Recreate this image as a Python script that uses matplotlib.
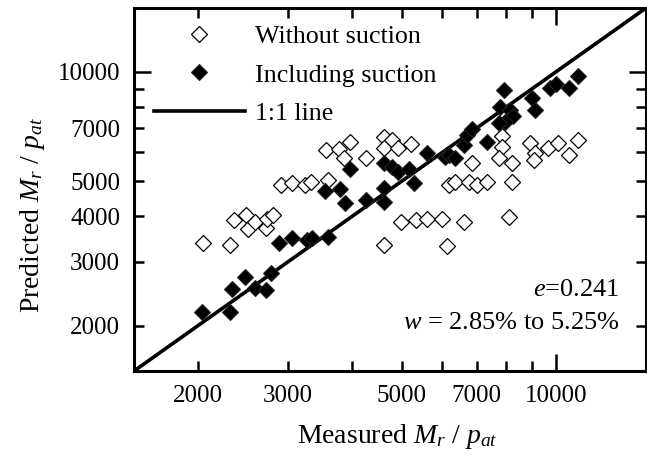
import matplotlib
matplotlib.use('Agg')
import matplotlib.pyplot as plt
from matplotlib.ticker import FixedLocator, FuncFormatter

plt.rcParams['font.family'] = ['Liberation Serif', 'DejaVu Serif']
plt.rcParams['mathtext.fontset'] = 'custom'
plt.rcParams['mathtext.rm'] = 'Liberation Serif'
plt.rcParams['mathtext.it'] = 'Liberation Serif:italic'

# measured vs predicted Mr/pat
open_x = [2050, 2310, 2350, 2480, 2510, 2585, 2710, 2730, 2800, 2910, 3050, 3240, 3325, 3590,
          3555, 3775, 3955, 3855, 4255, 4620, 4795, 4620, 4920, 5205, 4985, 4620, 5320, 5605,
          5995, 6605, 8085, 6130, 6180, 6365, 6755, 7015, 7335, 8205, 6860, 7845, 7845, 7730,
          8205, 8910, 9085, 9050, 9670, 10110, 10620, 11060]
open_y = [3370, 3340, 3900, 4030, 3690, 3870, 3720, 3940, 4030, 4880, 4940, 4880, 4985, 5040,
          6090, 6120, 6420, 5780, 5780, 6620, 6490, 6160, 6170, 6330, 3870, 3335, 3900, 3940,
          3930, 3870, 3990, 3320, 4880, 4985, 4985, 4880, 4990, 4985, 5600, 6650, 6220, 5780,
          5600, 6360, 5970, 5720, 6160, 6360, 5900, 6490]

fill_x = [2040, 2305, 2335, 2470, 2580, 2720, 2775, 2880, 3055, 3270, 3335, 3590, 3540, 3790,
          3870, 3955, 4255, 4610, 4620, 4620, 4795, 4920, 5165, 5285, 5605, 6085, 6180, 6365,
          6605, 6705, 6860, 7335, 7905, 7790, 8145, 8265, 7965, 7730, 8975, 9085, 9740, 10000,
          10620, 11060]
fill_y = [2185, 2175, 2520, 2730, 2535, 2505, 2785, 3370, 3480, 3445, 3480, 3500, 4700, 4760,
          4345, 5390, 4440, 4790, 4390, 5610, 5470, 5290, 5400, 4940, 5970, 5840, 5900, 5780,
          6290, 6700, 6980, 6420, 8920, 8020, 7850, 7560, 7290, 7230, 8460, 7850, 9010, 9250,
          9010, 9745]

lims = [1500, 15000]
xtick_labels = [2000, 3000, 5000, 7000, 10000]
ytick_labels = [2000, 3000, 4000, 5000, 7000, 10000]

fig = plt.figure(figsize=(6.47, 4.65), dpi=100)
ax = fig.add_axes([134 / 647, 94 / 465, 512 / 647, 363 / 465])

ax.plot(lims, lims, color='black', lw=2.6, label='1:1 line', zorder=2)
ax.plot(open_x, open_y, linestyle='none', marker='D', ms=8.5, mfc='white', mec='black',
        mew=0.9, label='Without suction', zorder=3)
ax.plot(fill_x, fill_y, linestyle='none', marker='D', ms=8.5, mfc='black', mec='#222222',
        mew=0.8, label='Including suction', zorder=4)

ax.set_xscale('log')
ax.set_yscale('log')
ax.set_xlim(lims)
ax.set_ylim(lims)

for axis, labs in [(ax.xaxis, xtick_labels), (ax.yaxis, ytick_labels)]:
    axis.set_major_locator(FixedLocator([10000]))
    axis.set_minor_locator(FixedLocator(range(2000, 10000, 1000)))
    fmt = FuncFormatter(lambda v, p, labs=labs: '%d' % round(v) if round(v) in labs else '')
    axis.set_major_formatter(fmt)
    axis.set_minor_formatter(fmt)

ax.tick_params(which='both', direction='in', top=True, right=True, labelsize=18, pad=10)
ax.tick_params(which='major', length=12, width=1.8)
ax.tick_params(which='minor', length=7, width=1.8)
for s in ax.spines.values():
    s.set_linewidth(2.2)

ax.set_xlabel(r'Measured $M_r$ / $p_{at}$', fontsize=20)
ax.set_ylabel(r'Predicted $M_r$ / $p_{at}$', fontsize=20)
ax.xaxis.set_label_coords(0.515, -0.14)
ax.yaxis.set_label_coords(-0.17, 0.43)

h, l = ax.get_legend_handles_labels()
order = [1, 2, 0]
ax.legend([h[i] for i in order], [l[i] for i in order], loc='upper left',
          bbox_to_anchor=(0.013, 0.99), frameon=False, fontsize=18.7, borderpad=0,
          handlelength=3.5, handletextpad=0.4, labelspacing=0.6)

ax.text(0.949, 0.223, r'$e$=0.241', transform=ax.transAxes, ha='right', va='center', fontsize=19)
ax.text(0.949, 0.132, r'$w$ = 2.85% to 5.25%', transform=ax.transAxes, ha='right', va='center',
        fontsize=19)

fig.savefig('out.png', dpi=100)
